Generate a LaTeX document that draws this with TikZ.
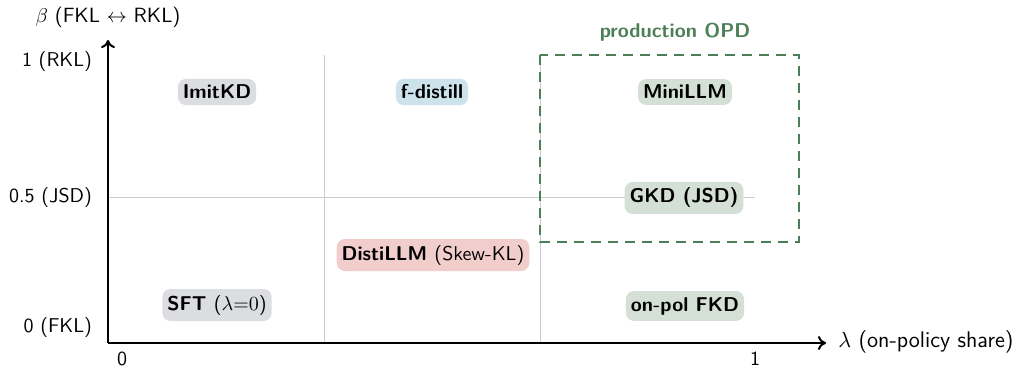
\documentclass[tikz,border=0pt]{standalone}
\usetikzlibrary{arrows.meta}
\definecolor{gridgray}{HTML}{CCCCCC}
\definecolor{boxgray}{HTML}{DCDDE0}
\definecolor{boxblue}{HTML}{CDE3EC}
\definecolor{boxgreen}{HTML}{D4E0D6}
\definecolor{boxred}{HTML}{F1CDCC}
\definecolor{opdgreen}{HTML}{4C7F57}
\begin{document}
\begin{tikzpicture}[x=0.5pt,y=-0.5pt,
  font=\sffamily,
  axis/.style={line width=1pt,-{To[length=4pt,width=7pt]}},
  gridline/.style={gridgray,line width=0.5pt},
  method/.style={rounded corners=4pt,inner xsep=2.5pt,inner ysep=3pt,font=\sffamily\bfseries},
]
\useasboundingbox (0,0) rectangle (1018,369);

% grid
\draw[gridline] (324,343) -- (324,55);
\draw[gridline] (540,343) -- (540,55);
\draw[gridline] (108,198) -- (755,198);

% axes
\coordinate (O) at (108,343);
\coordinate (xend) at (826,343);
\coordinate (yend) at (108,40);
\draw[axis] (O) -- (xend);
\draw[axis] (O) -- (yend);

% axis labels
\node[anchor=west,inner sep=0pt,font=\sffamily\fontsize{11.3}{13}\selectfont] (xlab) at (838,342) {$\lambda$ (on-policy share)};
\node[font=\sffamily\fontsize{10.3}{12}\selectfont] (ylab) at (108,17) {$\beta$ (FKL $\leftrightarrow$ RKL)};
\node[anchor=east] (y1) at (99,62) {1 (RKL)};
\node[anchor=east] (y05) at (99,198) {0.5 (JSD)};
\node[anchor=east] (y0) at (99,327) {0 (FKL)};
\node[inner sep=0pt] (x0) at (122,359) {0};
\node[inner sep=0pt] (x1) at (755,359) {1};

% production OPD region
\draw[opdgreen,line width=1pt,dash pattern=on 5pt off 3.5pt] (540,55) rectangle (799,242);
\node[opdgreen,font=\sffamily\bfseries] (opd) at (675,32) {production OPD};

% methods
\node[method,fill=boxgray] (imitkd) at (217,92) {ImitKD};
\node[method,fill=boxblue] (fdistill) at (432,92) {f-distill};
\node[method,fill=boxgreen] (minillm) at (685,92) {MiniLLM};
\node[method,fill=boxgreen] (gkd) at (684,198) {GKD (JSD)};
\node[method,fill=boxred] (distillm) at (433,255) {DistiLLM {\mdseries(Skew-KL)}};
\node[method,fill=boxgray] (sft) at (217,305) {SFT {\mdseries($\lambda{=}0$)}};
\node[method,fill=boxgreen] (onpol) at (685,306) {on-pol FKD};
\end{tikzpicture}
\end{document}
